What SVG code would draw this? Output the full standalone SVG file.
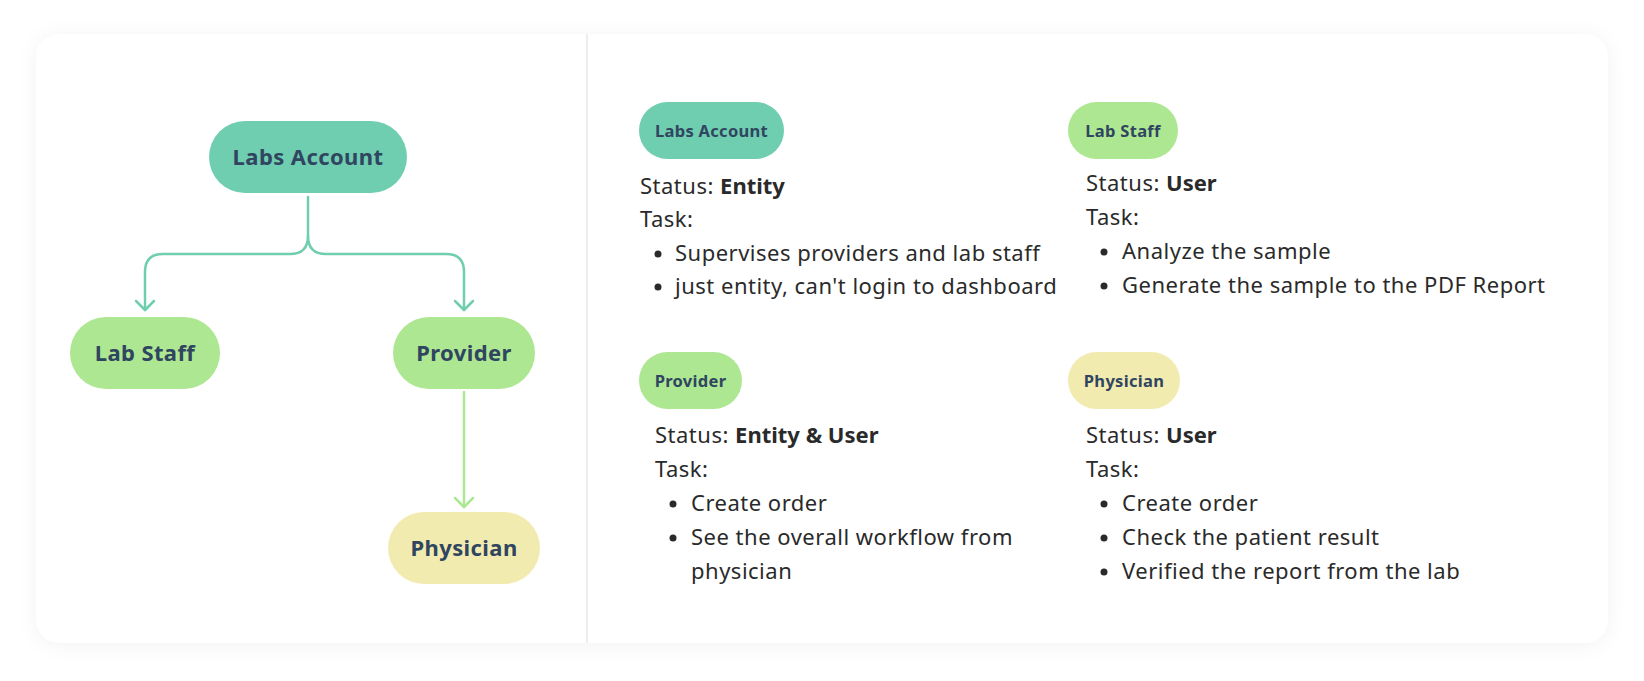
<svg xmlns="http://www.w3.org/2000/svg" width="1644" height="681" viewBox="0 0 1644 681">
<style>
.node-text{font-family:"Noto Sans",sans-serif;font-weight:700;fill:#2F4560;text-anchor:middle;dominant-baseline:central}
.big{font-size:22px;letter-spacing:0.4px}
.small{font-size:16.5px;letter-spacing:0.3px}
.body{font-family:"Noto Sans",sans-serif;font-size:22px;letter-spacing:0.5px;fill:#2A2A2A}
.b{font-weight:700;letter-spacing:0}
.teal{fill:#6FCDB0}
.green{fill:#AEE792}
.yellow{fill:#F2EBB0}
.conn-teal{fill:none;stroke:#6FCDB0;stroke-width:2.5;stroke-linecap:round;stroke-linejoin:round}
.conn-green{fill:none;stroke:#AEE792;stroke-width:2.5;stroke-linecap:round;stroke-linejoin:round}
.dot{fill:#2A2A2A}
</style>
<defs>
<filter id="shadow" x="-10%" y="-15%" width="120%" height="130%">
<feDropShadow dx="0" dy="2" stdDeviation="10" flood-color="#000" flood-opacity="0.05"/>
</filter>
</defs>
<rect width="1644" height="681" fill="#FFFFFF"/>
<rect x="36" y="34" width="1572" height="609" rx="24" fill="#FFFFFF" filter="url(#shadow)"/>
<line x1="587" y1="34" x2="587" y2="643" stroke="#E8E8E8" stroke-width="1.5"/>

<g id="connectors">
<path class="conn-teal" d="M308 197 V236 Q308 254 290 254 H163 Q145 254 145 272 V310"/>
<path class="conn-teal" d="M308 236 Q308 254 326 254 H446 Q464 254 464 272 V310"/>
<path class="conn-teal" d="M136 301 L145 310 L154 301"/>
<path class="conn-teal" d="M455 301 L464 310 L473 301"/>
<path class="conn-green" d="M464 392 V507"/>
<path class="conn-green" d="M455 498 L464 507 L473 498"/>
</g>

<g id="node-labs-account">
<rect class="teal" x="209" y="121" width="198" height="72" rx="36"/>
<text class="node-text big" x="308" y="156">Labs Account</text>
</g>
<g id="node-lab-staff">
<rect class="green" x="70" y="317" width="150" height="72" rx="36"/>
<text class="node-text big" x="145" y="352">Lab Staff</text>
</g>
<g id="node-provider">
<rect class="green" x="393" y="317" width="142" height="72" rx="36"/>
<text class="node-text big" x="464" y="352">Provider</text>
</g>
<g id="node-physician">
<rect class="yellow" x="388" y="512" width="152" height="72" rx="36"/>
<text class="node-text big" x="464" y="547">Physician</text>
</g>

<g id="info-labs-account">
<rect class="teal" x="639" y="102" width="145" height="57" rx="28.5"/>
<text class="node-text small" x="711.5" y="130">Labs Account</text>
<text class="body" x="640" y="194">Status: <tspan class="b">Entity</tspan></text>
<text class="body" x="640" y="227">Task:</text>
<circle class="dot" cx="658" cy="254" r="3.5"/>
<text class="body" x="675" y="261">Supervises providers and lab staff</text>
<circle class="dot" cx="658" cy="287" r="3.5"/>
<text class="body" x="675" y="294">just entity, can't login to dashboard</text>
</g>

<g id="info-lab-staff">
<rect class="green" x="1068" y="102" width="110" height="57" rx="28.5"/>
<text class="node-text small" x="1123" y="130">Lab Staff</text>
<text class="body" x="1086" y="191">Status: <tspan class="b">User</tspan></text>
<text class="body" x="1086" y="225">Task:</text>
<circle class="dot" cx="1104" cy="252" r="3.5"/>
<text class="body" x="1122" y="259">Analyze the sample</text>
<circle class="dot" cx="1104" cy="286" r="3.5"/>
<text class="body" x="1122" y="293">Generate the sample to the PDF Report</text>
</g>

<g id="info-provider">
<rect class="green" x="639" y="352" width="103" height="57" rx="28.5"/>
<text class="node-text small" x="690.5" y="380">Provider</text>
<text class="body" x="655" y="443">Status: <tspan class="b">Entity &amp; User</tspan></text>
<text class="body" x="655" y="477">Task:</text>
<circle class="dot" cx="673" cy="504" r="3.5"/>
<text class="body" x="691" y="511">Create order</text>
<circle class="dot" cx="673" cy="538" r="3.5"/>
<text class="body" x="691" y="545">See the overall workflow from</text>
<text class="body" x="691" y="579">physician</text>
</g>

<g id="info-physician">
<rect class="yellow" x="1068" y="352" width="112" height="57" rx="28.5"/>
<text class="node-text small" x="1124" y="380">Physician</text>
<text class="body" x="1086" y="443">Status: <tspan class="b">User</tspan></text>
<text class="body" x="1086" y="477">Task:</text>
<circle class="dot" cx="1104" cy="504" r="3.5"/>
<text class="body" x="1122" y="511">Create order</text>
<circle class="dot" cx="1104" cy="538" r="3.5"/>
<text class="body" x="1122" y="545">Check the patient result</text>
<circle class="dot" cx="1104" cy="572" r="3.5"/>
<text class="body" x="1122" y="579">Verified the report from the lab</text>
</g>
</svg>
